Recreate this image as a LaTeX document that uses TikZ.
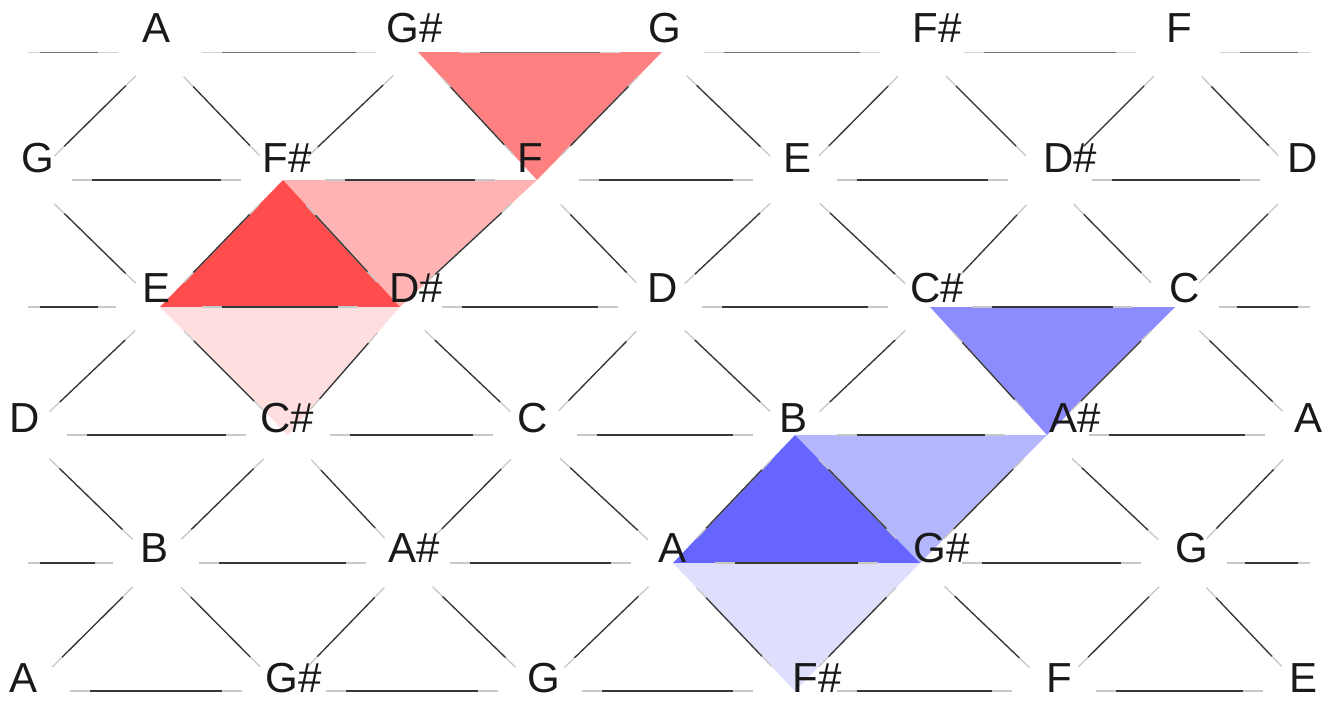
\documentclass[tikz,border=0pt]{standalone}
\usepackage{fontspec}
\setmainfont{Liberation Sans}
\definecolor{redA}{HTML}{FF8080}
\definecolor{redB}{HTML}{FF4D4D}
\definecolor{redC}{HTML}{FFB3B3}
\definecolor{redD}{HTML}{FFDEDF}
\definecolor{bluA}{HTML}{8C8CFF}
\definecolor{bluB}{HTML}{6666FF}
\definecolor{bluC}{HTML}{B3B6FA}
\definecolor{bluD}{HTML}{DEDEFD}
\tikzset{
  hout/.style={draw=black!22, line width=1.3pt, shorten >=42pt, shorten <=42pt},
  hin/.style={draw=black!78, line width=1.3pt, shorten >=62pt, shorten <=62pt},
  tout/.style={draw=black!18, line width=1pt, shorten >=42pt, shorten <=42pt},
  tin/.style={draw=black!55, line width=1pt, shorten >=62pt, shorten <=62pt},
  dout/.style={draw=black!22, line width=1.3pt, shorten >=34pt, shorten <=34pt},
  din/.style={draw=black!78, line width=1.3pt, shorten >=48pt, shorten <=48pt},
  stubout/.style={draw=black!22, line width=1.3pt, shorten >=44pt},
  stubin/.style={draw=black!78, line width=1.3pt, shorten >=62pt, shorten <=12pt},
  lbl/.style={anchor=base, inner sep=0pt, text=black!90, font=\fontsize{42}{42}\selectfont},
}
\begin{document}
\begin{tikzpicture}[x=1pt,y=-1pt]
\useasboundingbox (0,0) rectangle (1335,702);
% lattice points
\coordinate (a0A) at (160,52);  \coordinate (a0Gs) at (418,52); \coordinate (a0G) at (662,52);
\coordinate (a0Fs) at (922,52); \coordinate (a0F) at (1178,52);
\coordinate (b1G) at (30,180);  \coordinate (b1Fs) at (283,180); \coordinate (b1F) at (537,180);
\coordinate (b1E) at (795,180); \coordinate (b1Ds) at (1050,180); \coordinate (b1D) at (1302,180);
\coordinate (c2E) at (160,307); \coordinate (c2Ds) at (400,307); \coordinate (c2D) at (660,307);
\coordinate (c2Cs) at (930,307); \coordinate (c2C) at (1175,307);
\coordinate (d3D) at (25,435);  \coordinate (d3Cs) at (288,435); \coordinate (d3C) at (535,435);
\coordinate (d3B) at (795,435); \coordinate (d3As) at (1047,435); \coordinate (d3A) at (1307,435);
\coordinate (e4B) at (157,563); \coordinate (e4As) at (408,563); \coordinate (e4A) at (673,563);
\coordinate (e4Gs) at (920,563); \coordinate (e4G) at (1183,563);
\coordinate (f5A) at (28,691);  \coordinate (f5Gs) at (284,691); \coordinate (f5G) at (540,691);
\coordinate (f5Fs) at (795,691); \coordinate (f5F) at (1054,691); \coordinate (f5E) at (1305,691);
% stub ends
\coordinate (sL0) at (28,52);  \coordinate (sR0) at (1310,52);
\coordinate (sL2) at (28,307); \coordinate (sR2) at (1310,307);
\coordinate (sL4) at (28,563); \coordinate (sR4) at (1310,563);
% triangles
\fill[redA] (a0Gs) -- (a0G) -- (b1F) -- cycle;
\fill[redC] (b1Fs) -- (b1F) -- (c2Ds) -- cycle;
\fill[redB] (b1Fs) -- (c2E) -- (c2Ds) -- cycle;
\fill[redD] (c2E) -- (c2Ds) -- (d3Cs) -- cycle;
\fill[bluA] (c2Cs) -- (c2C) -- (d3As) -- cycle;
\fill[bluC] (d3B) -- (d3As) -- (e4Gs) -- cycle;
\fill[bluB] (d3B) -- (e4A) -- (e4Gs) -- cycle;
\fill[bluD] (e4A) -- (e4Gs) -- (f5Fs) -- cycle;
% top row horizontal edges (lighter)
\foreach \p/\q in {a0A/a0Gs, a0Gs/a0G, a0G/a0Fs, a0Fs/a0F}
{
  \draw[tout] (\p) -- (\q);
  \draw[tin] (\p) -- (\q);
}
% other horizontal lattice edges
\foreach \p/\q in {
  b1G/b1Fs, b1Fs/b1F, b1F/b1E, b1E/b1Ds, b1Ds/b1D,
  c2E/c2Ds, c2Ds/c2D, c2D/c2Cs, c2Cs/c2C,
  d3D/d3Cs, d3Cs/d3C, d3C/d3B, d3B/d3As, d3As/d3A,
  e4B/e4As, e4As/e4A, e4A/e4Gs, e4Gs/e4G,
  f5A/f5Gs, f5Gs/f5G, f5G/f5Fs, f5Fs/f5F, f5F/f5E}
{
  \draw[hout] (\p) -- (\q);
  \draw[hin] (\p) -- (\q);
}
% diagonal lattice edges
\foreach \p/\q in {
  a0A/b1G, a0A/b1Fs, a0Gs/b1Fs, a0Gs/b1F, a0G/b1F, a0G/b1E, a0Fs/b1E, a0Fs/b1Ds, a0F/b1Ds, a0F/b1D,
  c2E/b1G, c2E/b1Fs, c2Ds/b1Fs, c2Ds/b1F, c2D/b1F, c2D/b1E, c2Cs/b1E, c2Cs/b1Ds, c2C/b1Ds, c2C/b1D,
  c2E/d3D, c2E/d3Cs, c2Ds/d3Cs, c2Ds/d3C, c2D/d3C, c2D/d3B, c2Cs/d3B, c2Cs/d3As, c2C/d3As, c2C/d3A,
  e4B/d3D, e4B/d3Cs, e4As/d3Cs, e4As/d3C, e4A/d3C, e4A/d3B, e4Gs/d3B, e4Gs/d3As, e4G/d3As, e4G/d3A,
  e4B/f5A, e4B/f5Gs, e4As/f5Gs, e4As/f5G, e4A/f5G, e4A/f5Fs, e4Gs/f5Fs, e4Gs/f5F, e4G/f5F, e4G/f5E}
{
  \draw[dout] (\p) -- (\q);
  \draw[din] (\p) -- (\q);
}
\foreach \s/\t in {sL0/a0A, sR0/a0F}
{
  \draw[tout, shorten <=0pt] (\s) -- (\t);
  \draw[tin, shorten <=12pt] (\s) -- (\t);
}
\foreach \s/\t in {sL2/c2E, sR2/c2C, sL4/e4B, sR4/e4G}
{
  \draw[stubout] (\s) -- (\t);
  \draw[stubin] (\s) -- (\t);
}
% labels
\node[lbl] (nA0)  at (157,42) {A};
\node[lbl] (nGs0) at (415,42) {G\#};
\node[lbl] (nG0)  at (665,42) {G};
\node[lbl] (nFs0) at (937,42) {F\#};
\node[lbl] (nF0)  at (1179,42) {F};
\node[lbl] (nG1)  at (38,172) {G};
\node[lbl] (nFs1) at (287,172) {F\#};
\node[lbl] (nF1)  at (530,172) {F};
\node[lbl] (nE1)  at (797,172) {E};
\node[lbl] (nDs1) at (1070,172) {D\#};
\node[lbl] (nD1)  at (1303,172) {D};
\node[lbl] (nE2)  at (157,302) {E};
\node[lbl] (nDs2) at (416,302) {D\#};
\node[lbl] (nD2)  at (663,302) {D};
\node[lbl] (nCs2) at (937,302) {C\#};
\node[lbl] (nC2)  at (1185,302) {C};
\node[lbl] (nD3)  at (25,432) {D};
\node[lbl] (nCs3) at (287,432) {C\#};
\node[lbl] (nC3)  at (533,432) {C};
\node[lbl] (nB3)  at (793,432) {B};
\node[lbl] (nAs3) at (1075,432) {A\#};
\node[lbl] (nA3)  at (1308,432) {A};
\node[lbl] (nB4)  at (155,562) {B};
\node[lbl] (nAs4) at (414,562) {A\#};
\node[lbl] (nA4)  at (672,562) {A};
\node[lbl] (nGs4) at (942,562) {G\#};
\node[lbl] (nG4)  at (1192,562) {G};
\node[lbl] (nA5)  at (24,692) {A};
\node[lbl] (nGs5) at (294,692) {G\#};
\node[lbl] (nG5)  at (544,692) {G};
\node[lbl] (nFs5) at (817,692) {F\#};
\node[lbl] (nF5)  at (1059,692) {F};
\node[lbl] (nE5)  at (1303,692) {E};
\end{tikzpicture}
\end{document}
